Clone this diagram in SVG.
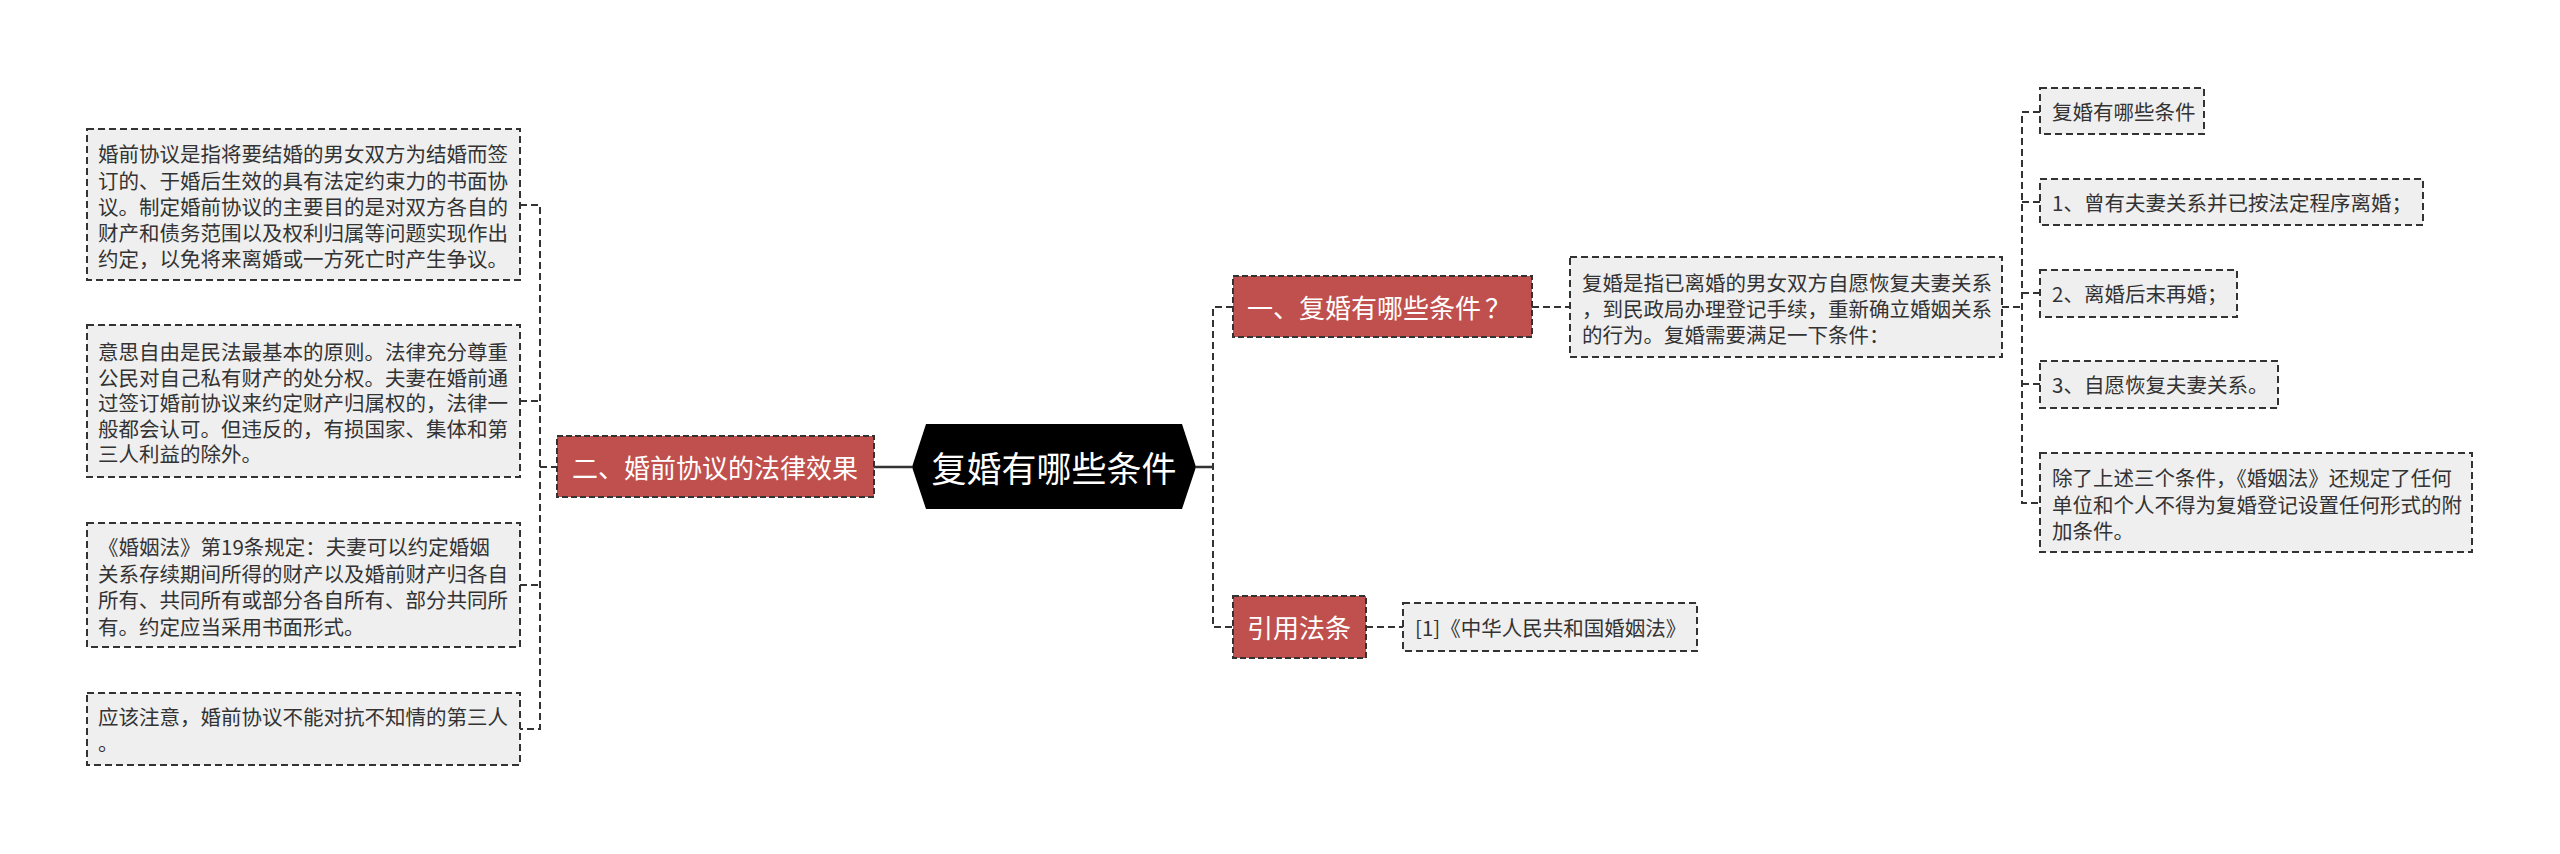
<svg xmlns="http://www.w3.org/2000/svg" width="2560" height="854" viewBox="0 0 2560 854">
<style>
.box{fill:#efefef;stroke:#333;stroke-width:2;stroke-dasharray:7 4}
.red{fill:#c0504d;stroke:#333;stroke-width:2;stroke-dasharray:6 3}
.t{font-family:"Noto Sans CJK SC","Microsoft YaHei",sans-serif;font-size:20.5px;fill:#333;dominant-baseline:central}
.rt{font-family:"Noto Sans CJK SC","Microsoft YaHei",sans-serif;font-size:26px;fill:#fff;dominant-baseline:central}
.ct{font-family:"Noto Sans CJK SC","Microsoft YaHei",sans-serif;font-size:35px;fill:#fff;dominant-baseline:central;text-anchor:middle}
.c{fill:none;stroke:#333;stroke-width:2;stroke-dasharray:7 4}
.s{fill:none;stroke:#333;stroke-width:2.5}
</style>
<rect width="2560" height="854" fill="#fff"/>
<g id="connectors">
<path class="s" d="M874 467H912M1196 467H1213"/>
<path class="c" d="M520 205H540V729H520M520 401H540M520 585H540M540 467H557"/>
<path class="c" d="M1233 307H1213V627H1233"/>
<path class="c" d="M1532 307H1570"/>
<path class="c" d="M1366 627H1403"/>
<path class="c" d="M2002 307H2022"/>
<path class="c" d="M2040 112H2022V503H2040M2022 202H2040M2022 293H2040M2022 384H2040"/>
</g>
<g id="center">
<polygon points="912,467 926,424 1182,424 1196,467 1182,509 926,509" fill="#000"/>
<text class="ct" x="1054" y="466">复婚有哪些条件</text>
</g>
<g id="n-er">
<rect class="red" x="557" y="436" width="317" height="61"/>
<text class="rt" x="572" y="466">二、婚前协议的法律效果</text>
</g>
<g id="n-l1">
<rect class="box" x="87" y="129" width="433" height="151"/>
<text class="t" x="98" y="153">婚前协议是指将要结婚的男女双方为结婚而签</text>
<text class="t" x="98" y="179.5">订的、于婚后生效的具有法定约束力的书面协</text>
<text class="t" x="98" y="205.5">议。制定婚前协议的主要目的是对双方各自的</text>
<text class="t" x="98" y="232">财产和债务范围以及权利归属等问题实现作出</text>
<text class="t" x="98" y="258">约定，以免将来离婚或一方死亡时产生争议。</text>
</g>
<g id="n-l2">
<rect class="box" x="87" y="325" width="433" height="152"/>
<text class="t" x="98" y="351">意思自由是民法最基本的原则。法律充分尊重</text>
<text class="t" x="98" y="377">公民对自己私有财产的处分权。夫妻在婚前通</text>
<text class="t" x="98" y="402">过签订婚前协议来约定财产归属权的，法律一</text>
<text class="t" x="98" y="428">般都会认可。但违反的，有损国家、集体和第</text>
<text class="t" x="98" y="453">三人利益的除外。</text>
</g>
<g id="n-l3">
<rect class="box" x="87" y="523" width="433" height="124"/>
<text class="t" x="98" y="546">《婚姻法》第19条规定：夫妻可以约定婚姻</text>
<text class="t" x="98" y="572.5">关系存续期间所得的财产以及婚前财产归各自</text>
<text class="t" x="98" y="599">所有、共同所有或部分各自所有、部分共同所</text>
<text class="t" x="98" y="625.5">有。约定应当采用书面形式。</text>
</g>
<g id="n-l4">
<rect class="box" x="87" y="693" width="433" height="72"/>
<text class="t" x="98" y="716">应该注意，婚前协议不能对抗不知情的第三人</text>
<text class="t" x="98" y="742">。</text>
</g>
<g id="n-yi">
<rect class="red" x="1233" y="276" width="299" height="61"/>
<text class="rt" x="1247" y="306">一、复婚有哪些条件<tspan x="1485">？</tspan></text>
</g>
<g id="n-desc">
<rect class="box" x="1570" y="257" width="432" height="100"/>
<text class="t" x="1582" y="282">复婚是指已离婚的男女双方自愿恢复夫妻关系</text>
<text class="t" x="1582" y="308">，到民政局办理登记手续，重新确立婚姻关系</text>
<text class="t" x="1582" y="334">的行为。复婚需要满足一下条件：</text>
</g>
<g id="n-r1">
<rect class="box" x="2040" y="88" width="164" height="46"/>
<text class="t" x="2052" y="111">复婚有哪些条件</text>
</g>
<g id="n-r2">
<rect class="box" x="2040" y="179" width="383" height="46"/>
<text class="t" x="2052" y="202">1、曾有夫妻关系并已按法定程序离婚；</text>
</g>
<g id="n-r3">
<rect class="box" x="2040" y="270" width="197" height="47"/>
<text class="t" x="2052" y="293">2、离婚后末再婚；</text>
</g>
<g id="n-r4">
<rect class="box" x="2040" y="361" width="238" height="47"/>
<text class="t" x="2052" y="384">3、自愿恢复夫妻关系。</text>
</g>
<g id="n-r5">
<rect class="box" x="2040" y="453" width="432" height="99"/>
<text class="t" x="2052" y="477">除了上述三个条件，《婚姻法》还规定了任何</text>
<text class="t" x="2052" y="504">单位和个人不得为复婚登记设置任何形式的附</text>
<text class="t" x="2052" y="530">加条件。</text>
</g>
<g id="n-cite">
<rect class="red" x="1233" y="596" width="133" height="62"/>
<text class="rt" x="1247" y="626">引用法条</text>
</g>
<g id="n-law">
<rect class="box" x="1403" y="603" width="294" height="48"/>
<text class="t" x="1415" y="627">[1]《中华人民共和国婚姻法》</text>
</g>
</svg>
